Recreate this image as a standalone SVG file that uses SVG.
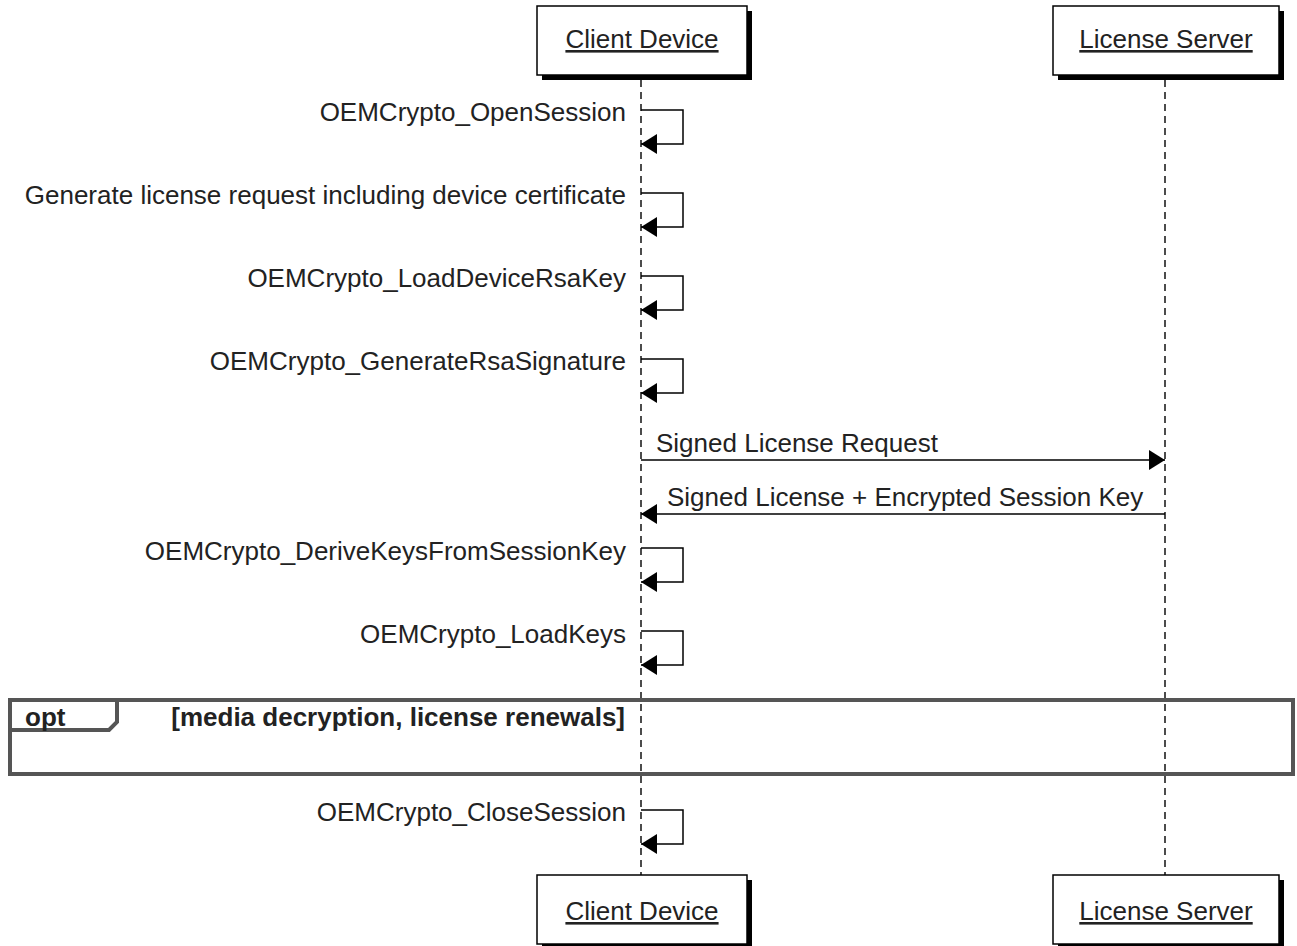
<svg xmlns="http://www.w3.org/2000/svg" width="1297" height="946" viewBox="0 0 1297 946">
<style>
text{font-family:"Liberation Sans",Arial,sans-serif;fill:#222}
.msg{font-size:26px}
.pt{font-size:26px;text-anchor:middle;text-decoration:underline}
.box{fill:#fff;stroke:#000;stroke-width:1.5}
.sh{fill:#000}
.life{stroke:#000;stroke-width:1.4;stroke-dasharray:7,5;fill:none}
.ln{stroke:#000;stroke-width:1.5;fill:none}
.frame{fill:none;stroke:#555;stroke-width:4}
.bold{font-weight:bold;font-size:26px}
</style>
<defs>
<marker id="ah" markerWidth="16" markerHeight="20" refX="16" refY="10" orient="auto" markerUnits="userSpaceOnUse">
<path d="M0,0 L16,10 L0,20 Z" fill="#000"/>
</marker>
</defs>
<g id="lifelines">
<line class="life" x1="641" y1="80" x2="641" y2="875"/>
<line class="life" x1="1165" y1="80" x2="1165" y2="875"/>
</g>
<g id="client-top">
<rect class="sh" x="542" y="11" width="210" height="69"/>
<rect class="box" x="537" y="6" width="210" height="69"/>
<text class="pt" x="642" y="48">Client Device</text>
</g>
<g id="server-top">
<rect class="sh" x="1058" y="11" width="226" height="69"/>
<rect class="box" x="1053" y="6" width="226" height="69"/>
<text class="pt" x="1166" y="48">License Server</text>
</g>
<g id="client-bottom">
<rect class="sh" x="542" y="880" width="210" height="69"/>
<rect class="box" x="537" y="875" width="210" height="69"/>
<text class="pt" x="642" y="920">Client Device</text>
</g>
<g id="server-bottom">
<rect class="sh" x="1058" y="880" width="226" height="69"/>
<rect class="box" x="1053" y="875" width="226" height="69"/>
<text class="pt" x="1166" y="920">License Server</text>
</g>
<g id="opt-frame">
<rect class="frame" x="10" y="700" width="1283" height="74"/>
<path class="frame" d="M10,730 L109,730 L117,722 L117,700"/>
<text class="bold" x="25" y="726">opt</text>
<text class="bold" x="625" y="726" text-anchor="end">[media decryption, license renewals]</text>
</g>
<g id="connectors">
<path class="ln" d="M641,110 H683 V144 H641" marker-end="url(#ah)"/>
<path class="ln" d="M641,193 H683 V227 H641" marker-end="url(#ah)"/>
<path class="ln" d="M641,276 H683 V310 H641" marker-end="url(#ah)"/>
<path class="ln" d="M641,359 H683 V393 H641" marker-end="url(#ah)"/>
<line class="ln" x1="641" y1="460" x2="1165" y2="460" marker-end="url(#ah)"/>
<line class="ln" x1="1165" y1="514" x2="641" y2="514" marker-end="url(#ah)"/>
<path class="ln" d="M641,548 H683 V582 H641" marker-end="url(#ah)"/>
<path class="ln" d="M641,631 H683 V665 H641" marker-end="url(#ah)"/>
<path class="ln" d="M641,810 H683 V844 H641" marker-end="url(#ah)"/>
</g>
<g id="labels" class="msg">
<text class="msg" x="626" y="121" text-anchor="end">OEMCrypto_OpenSession</text>
<text class="msg" x="626" y="204" text-anchor="end">Generate license request including device certificate</text>
<text class="msg" x="626" y="287" text-anchor="end">OEMCrypto_LoadDeviceRsaKey</text>
<text class="msg" x="626" y="370" text-anchor="end">OEMCrypto_GenerateRsaSignature</text>
<text class="msg" x="656" y="452">Signed License Request</text>
<text class="msg" x="667" y="506">Signed License + Encrypted Session Key</text>
<text class="msg" x="626" y="560" text-anchor="end">OEMCrypto_DeriveKeysFromSessionKey</text>
<text class="msg" x="626" y="643" text-anchor="end">OEMCrypto_LoadKeys</text>
<text class="msg" x="626" y="821" text-anchor="end">OEMCrypto_CloseSession</text>
</g>
</svg>
